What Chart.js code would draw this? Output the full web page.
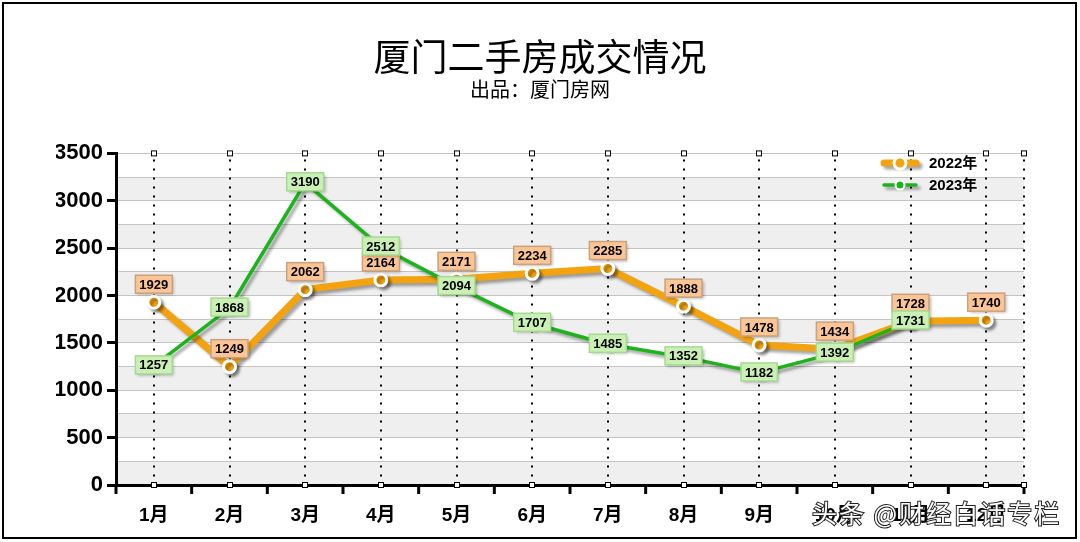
<!DOCTYPE html>
<html>
<head>
<meta charset="utf-8">
<script src="https://cdn.jsdelivr.net/npm/chart.js@4/dist/chart.umd.min.js"></script>
<style>
  html, body { margin: 0; padding: 0; background: #fff; }
  #wrap { width: 1080px; height: 542px; }
</style>
</head>
<body>
<div id="wrap"><canvas id="grafica" width="1080" height="542"></canvas></div>
<script>
// datos
const meses = ['1月', '2月', '3月', '4月', '5月', '6月', '7月', '8月', '9月', '10月', '11月', '12月'];
const ventas2022 = [1929, 1249, 2062, 2164, 2171, 2234, 2285, 1888, 1478, 1434, 1728, 1740];
const ventas2023 = [1257, 1868, 3190, 2512, 2094, 1707, 1485, 1352, 1182, 1392, 1731, null];
const etiquetasSerie = ['2022年', '2023年'];
const ejeYMax = 3500;
const ejeYPaso = 250;

const naranja = '#f2a30f';
const verde = '#1db31d';
const fuenteCJK = 'Arial, "Liberation Sans", "Noto Sans CJK SC", sans-serif';

// bandas grises, lineas punteadas y marcas del eje x
const fondoPlugin = {
    id: 'fondo',
    beforeDraw(chart) {
        const { ctx, chartArea, scales } = chart;
        const y = scales.y;
        ctx.save();
        ctx.fillStyle = '#efefef';
        for (let v = 0; v < ejeYMax; v += 500) {
            const top = y.getPixelForValue(v + ejeYPaso);
            const bottom = y.getPixelForValue(v);
            ctx.fillRect(chartArea.left, top, chartArea.right - chartArea.left, bottom - top);
        }
        ctx.restore();
    },
    beforeDatasetsDraw(chart) {
        const { ctx, chartArea, scales } = chart;
        const x = scales.x;
        const posiciones = meses.map((m, i) => x.getPixelForValue(i));
        posiciones.push(chartArea.right);
        ctx.save();
        ctx.strokeStyle = '#000';
        ctx.lineWidth = 2;
        ctx.setLineDash([2, 7]);
        posiciones.forEach(px => {
            ctx.beginPath();
            ctx.moveTo(Math.round(px), chartArea.top + 6);
            ctx.lineTo(Math.round(px), chartArea.bottom);
            ctx.stroke();
        });
        ctx.setLineDash([]);
        // marcas entre categorias
        const ancho = (chartArea.right - chartArea.left) / meses.length;
        ctx.lineWidth = 3;
        for (let i = 0; i <= meses.length; i++) {
            const px = chartArea.left + i * ancho;
            ctx.beginPath();
            ctx.moveTo(px, chartArea.bottom);
            ctx.lineTo(px, chartArea.bottom + 9);
            ctx.stroke();
        }
        // cuadritos arriba y abajo
        ctx.lineWidth = 1;
        posiciones.forEach(px => {
            [chartArea.top, chartArea.bottom].forEach(py => {
                ctx.fillStyle = '#fff';
                ctx.fillRect(Math.round(px) - 2.5, py - 2.5, 5, 5);
                ctx.strokeRect(Math.round(px) - 2.5, py - 2.5, 5, 5);
            });
        });
        ctx.restore();
    }
};

// sombra de las lineas
const sombraPlugin = {
    id: 'sombra',
    beforeDatasetDraw(chart, args) {
        const ctx = chart.ctx;
        ctx.save();
        ctx.shadowColor = 'rgba(0,0,0,0.35)';
        ctx.shadowBlur = 3;
        ctx.shadowOffsetX = 3;
        ctx.shadowOffsetY = 3;
    },
    afterDatasetDraw(chart) {
        chart.ctx.restore();
    }
};

// cajitas con los valores
const etiquetasPlugin = {
    id: 'etiquetas',
    afterDatasetsDraw(chart) {
        const ctx = chart.ctx;
        const estilos = [
            { fondo: '#fbc595', borde: '#c8a27f', dy: -18 },
            { fondo: '#cbf0b6', borde: '#a6da90', dy: -1 }
        ];
        ctx.save();
        ctx.font = 'bold 13px Arial, "Liberation Sans", sans-serif';
        ctx.textAlign = 'center';
        ctx.textBaseline = 'middle';
        chart.data.datasets.forEach((ds, di) => {
            const meta = chart.getDatasetMeta(di);
            const est = estilos[di];
            meta.data.forEach((pt, i) => {
                const valor = ds.data[i];
                if (valor === null) return;
                const texto = String(valor);
                const w = ctx.measureText(texto).width + 8;
                const h = 18;
                const cx = pt.x;
                const cy = pt.y + est.dy;
                ctx.shadowColor = 'rgba(0,0,0,0.3)';
                ctx.shadowBlur = 3;
                ctx.shadowOffsetX = 2;
                ctx.shadowOffsetY = 2;
                ctx.fillStyle = est.fondo;
                ctx.fillRect(cx - w / 2, cy - h / 2, w, h);
                ctx.shadowColor = 'transparent';
                ctx.strokeStyle = est.borde;
                ctx.lineWidth = 1.5;
                ctx.strokeRect(cx - w / 2, cy - h / 2, w, h);
                ctx.fillStyle = '#000';
                ctx.fillText(texto, cx, cy + 1);
            });
        });
        ctx.restore();
    }
};

// leyenda dentro del area y marco general
const leyendaPlugin = {
    id: 'leyenda',
    afterDraw(chart) {
        const ctx = chart.ctx;
        ctx.save();
        chart.data.datasets.forEach((ds, i) => {
            const y = 163 + i * 22;
            ctx.shadowColor = 'rgba(0,0,0,0.35)';
            ctx.shadowBlur = 3;
            ctx.shadowOffsetX = 3;
            ctx.shadowOffsetY = 3;
            ctx.strokeStyle = ds.borderColor;
            ctx.lineWidth = ds.borderWidth;
            ctx.lineCap = 'round';
            ctx.beginPath();
            ctx.moveTo(884, y);
            ctx.lineTo(916, y);
            ctx.stroke();
            ctx.shadowColor = 'transparent';
            ctx.beginPath();
            ctx.arc(900, y, ds.pointRadius, 0, Math.PI * 2);
            ctx.fillStyle = ds.backgroundColor;
            ctx.fill();
            ctx.lineWidth = ds.pointBorderWidth;
            ctx.strokeStyle = '#fff';
            ctx.stroke();
            ctx.fillStyle = '#000';
            ctx.font = 'bold 15px ' + fuenteCJK;
            ctx.textAlign = 'left';
            ctx.textBaseline = 'middle';
            ctx.fillText(ds.label, 929, y + 1);
        });
        // marca de agua
        ctx.font = '25px "Noto Sans CJK SC", sans-serif';
        ctx.letterSpacing = '2px';
        ctx.textAlign = 'left';
        ctx.textBaseline = 'middle';
        ctx.lineWidth = 2;
        ctx.strokeStyle = '#222';
        ctx.strokeText('头条 @财经白话专栏', 812, 513);
        ctx.fillStyle = '#fff';
        ctx.fillText('头条 @财经白话专栏', 812, 513);
        ctx.letterSpacing = '0px';
        // marco
        ctx.strokeStyle = '#000';
        ctx.lineWidth = 2;
        ctx.strokeRect(3, 3, 1073, 535);
        ctx.restore();
    }
};

const ctx = document.getElementById('grafica').getContext('2d');

new Chart(ctx, {
    type: 'line',
    data: {
        labels: meses,
        datasets: [
            {
                label: etiquetasSerie[0],
                data: ventas2022,
                borderColor: naranja,
                backgroundColor: naranja,
                borderWidth: 7,
                pointRadius: 6,
                pointBorderWidth: 3,
                pointBorderColor: '#fff',
                pointBackgroundColor: naranja,
                tension: 0,
                order: 1
            },
            {
                label: etiquetasSerie[1],
                data: ventas2023,
                borderColor: verde,
                backgroundColor: verde,
                borderWidth: 3.5,
                pointRadius: 4.5,
                pointBorderWidth: 2,
                pointBorderColor: '#fff',
                pointBackgroundColor: verde,
                tension: 0,
                order: 0
            }
        ]
    },
    options: {
        responsive: false,
        animation: false,
        layout: { padding: { left: 56, right: 56, top: 0, bottom: 0 } },
        plugins: {
            legend: { display: false },
            tooltip: { enabled: false },
            title: {
                display: true,
                text: '厦门二手房成交情况',
                color: '#000',
                font: { family: '"Noto Sans CJK SC", sans-serif', size: 37, weight: 'normal', lineHeight: 1.2 },
                padding: { top: 35, bottom: -2 }
            },
            subtitle: {
                display: true,
                text: '出品：厦门房网',
                color: '#000',
                font: { family: '"Noto Sans CJK SC", sans-serif', size: 20, weight: 'normal', lineHeight: 1.2 },
                padding: { top: 0, bottom: 52 }
            }
        },
        scales: {
            x: {
                offset: true,
                afterFit(scale) { scale.height = 57; },
                grid: { display: false, offset: true },
                border: { color: '#000', width: 3 },
                ticks: {
                    color: '#000',
                    padding: 11,
                    maxRotation: 0,
                    autoSkip: false,
                    font: { family: fuenteCJK, size: 19, weight: 'bold' }
                }
            },
            y: {
                min: 0,
                max: ejeYMax,
                afterFit(scale) { scale.width = 60; },
                border: { color: '#000', width: 3 },
                grid: {
                    color: '#c4c4c4',
                    lineWidth: 1,
                    tickLength: 9,
                    tickWidth: 3,
                    tickColor: c => (c.tick && c.tick.value % 500 === 0) ? '#000' : 'rgba(0,0,0,0)'
                },
                ticks: {
                    stepSize: ejeYPaso,
                    color: '#000',
                    padding: 4,
                    autoSkip: false,
                    font: { family: 'Arial, "Liberation Sans", sans-serif', size: 22, weight: 'bold' },
                    callback: v => (v % 500 === 0) ? v : ''
                }
            }
        }
    },
    plugins: [fondoPlugin, sombraPlugin, etiquetasPlugin, leyendaPlugin]
});
</script>
</body>
</html>
